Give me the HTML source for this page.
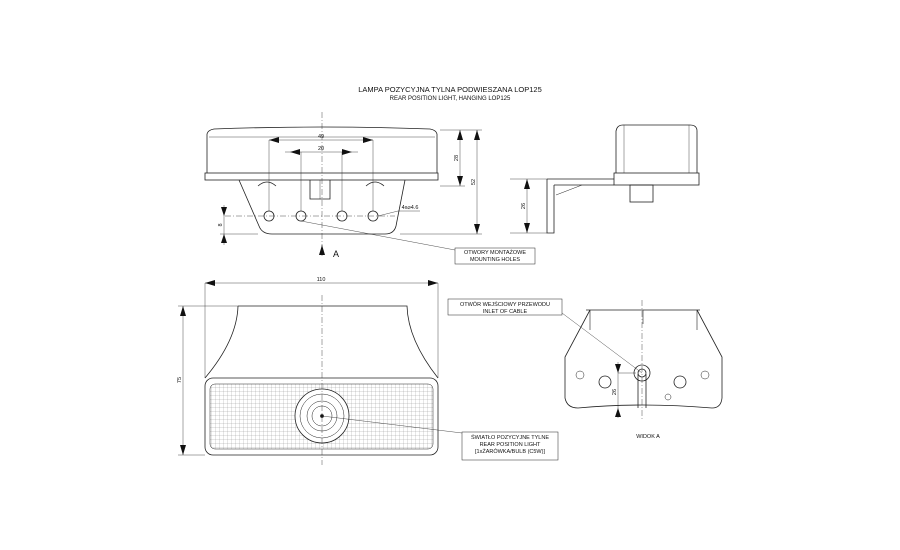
<!DOCTYPE html>
<html><head><style>html,body{margin:0;padding:0;background:#fff;}svg{display:block}text{font-family:"Liberation Sans",sans-serif;fill:#111}</style></head>
<body>
<svg width="900" height="550" viewBox="0 0 900 550" xmlns="http://www.w3.org/2000/svg">
<defs>
<marker id="a" markerWidth="10" markerHeight="6" refX="10" refY="3" orient="auto-start-reverse" markerUnits="userSpaceOnUse"><path d="M0,0 L10,3 L0,6Z" fill="#111"/></marker>
<pattern id="g" width="4" height="4" patternUnits="userSpaceOnUse"><path d="M4,0V4M0,4H4" stroke="#999" stroke-width="0.5" fill="none"/></pattern>
</defs>
<text x="450" y="92" font-size="7.5" text-anchor="middle">LAMPA POZYCYJNA TYLNA PODWIESZANA LOP125</text>
<text x="450" y="100" font-size="6" text-anchor="middle">REAR POSITION LIGHT, HANGING LOP125</text>
<g fill="none" stroke="#222" stroke-width="0.8">
<!-- front view top -->
<path d="M207,173 L207,134 Q208,130 214,129 Q322,125 430,129 Q436,130 437,134 L437,173"/>
<line x1="209" y1="137" x2="435" y2="137" stroke-width="0.4"/>
<rect x="205" y="173" width="233" height="7"/>
<path d="M239,180 L259,226 Q262,234 272,234 L385,234 Q394,234 396,226 L405,180"/>
<path d="M310,180 V199 H330 V180"/><line x1="320" y1="180" x2="320" y2="199" stroke-width="0.4"/>
<path d="M258,186 Q267,178 276,186 M366,186 Q375,178 384,186"/>
<circle cx="269" cy="216" r="5"/><circle cx="301" cy="216" r="5"/><circle cx="342" cy="216" r="5"/><circle cx="373" cy="216" r="5"/>
<g stroke-width="0.4" stroke-dasharray="6,2,1,2"><line x1="322" y1="112" x2="322" y2="248"/><line x1="225" y1="216" x2="395" y2="216"/></g>
<g stroke-width="0.4">
<line x1="269" y1="140" x2="269" y2="211"/><line x1="373" y1="140" x2="373" y2="211"/>
<line x1="301" y1="152" x2="301" y2="211"/><line x1="342" y1="152" x2="342" y2="211"/>
<line x1="269" y1="140" x2="373" y2="140" marker-start="url(#a)" marker-end="url(#a)"/>
<line x1="285" y1="152" x2="358" y2="152"/>
<line x1="440" y1="130" x2="482" y2="130"/><line x1="440" y1="186" x2="465" y2="186"/><line x1="400" y1="234" x2="482" y2="234"/>
<line x1="460" y1="130" x2="460" y2="186" marker-start="url(#a)" marker-end="url(#a)"/>
<line x1="477" y1="130" x2="477" y2="234" marker-start="url(#a)" marker-end="url(#a)"/>
<line x1="224" y1="205" x2="224" y2="245"/><line x1="220" y1="234" x2="258" y2="234"/>
<line x1="378" y1="216" x2="398" y2="211"/><line x1="398" y1="211" x2="420" y2="211"/>
<line x1="301" y1="221" x2="455" y2="250"/>
<line x1="322" y1="256" x2="322" y2="245" marker-end="url(#a)"/>
</g>
<path d="M290,152 l10,-3 v6z M352,152 l-10,-3 v6z M224,216 l-3,-9 h6z M224,234 l-3,9 h6z" fill="#111" stroke="none"/>
<rect x="455" y="248" width="80" height="16" stroke-width="0.5"/>
<!-- side view -->
<path d="M616,173 V131 Q617,125 623,125 H690 Q697,125 697,131 V173"/>
<line x1="624" y1="125" x2="624" y2="173" stroke-width="0.4"/><line x1="689" y1="125" x2="689" y2="173" stroke-width="0.4"/>
<rect x="614" y="173" width="85" height="12"/>
<path d="M547,179 H614 M554,185 H614 M547,179 V233 H554 V185"/>
<path d="M556,195 L582,185" stroke-width="0.5"/>
<rect x="630" y="185" width="23" height="17"/>
<g stroke-width="0.4"><line x1="510" y1="179" x2="547" y2="179"/><line x1="510" y1="233" x2="547" y2="233"/>
<line x1="527" y1="179" x2="527" y2="233" marker-start="url(#a)" marker-end="url(#a)"/></g>
<!-- bottom view -->
<path d="M238,306 H407 Q408,340 438,378 M238,306 Q237,340 205,378"/>
<rect x="205" y="378" width="233" height="77" rx="8"/>
<rect x="210" y="384" width="223" height="65" rx="5" fill="url(#g)" stroke-width="0.5"/>
<circle cx="322" cy="416" r="27" fill="#fff"/><circle cx="322" cy="416" r="22" stroke-width="0.5"/><circle cx="322" cy="416" r="15" stroke-width="0.5"/><circle cx="322" cy="416" r="10" stroke-width="0.5"/>
<circle cx="322" cy="416" r="1.5" fill="#111"/>
<g stroke-width="0.4">
<line x1="205" y1="283" x2="205" y2="378"/><line x1="438" y1="283" x2="438" y2="378"/>
<line x1="205" y1="283" x2="438" y2="283" marker-start="url(#a)" marker-end="url(#a)"/>
<line x1="178" y1="306" x2="238" y2="306"/><line x1="178" y1="455" x2="205" y2="455"/>
<line x1="183" y1="306" x2="183" y2="455" marker-start="url(#a)" marker-end="url(#a)"/>
<line x1="322" y1="295" x2="322" y2="465" stroke-dasharray="6,2,1,2"/>
<line x1="322" y1="416" x2="462" y2="433"/>
<line x1="562" y1="313" x2="642" y2="373"/>
</g>
<rect x="462" y="432" width="96" height="28" stroke-width="0.5"/>
<rect x="448" y="299" width="114" height="16" stroke-width="0.5"/>
<!-- view A -->
<path d="M586,310 H700 M590,310 L565,357 V398 Q567,408 578,408 Q642,402 712,408 Q721,408 722,398 V357 L697,310"/>
<path d="M590,310 v20 M697,310 v20 M643,310 v14" stroke-width="0.6"/>
<circle cx="642" cy="373" r="8"/><circle cx="642" cy="373" r="4"/>
<path d="M638,374 V408 M646,374 V408"/>
<circle cx="605" cy="382" r="6"/><circle cx="680" cy="382" r="6"/><circle cx="580" cy="375" r="4" stroke-width="0.5"/><circle cx="705" cy="375" r="4" stroke-width="0.5"/><circle cx="668" cy="397" r="3" stroke-width="0.5"/>
<g stroke-width="0.4"><line x1="642" y1="300" x2="642" y2="420" stroke-dasharray="6,2,1,2"/>
<line x1="618" y1="373" x2="636" y2="373"/>
<line x1="618" y1="362" x2="618" y2="418"/></g>
<path d="M618,373 l-3,-9 h6z M618,408 l-3,9 h6z" fill="#111" stroke="none"/>
</g>
<g font-size="5.5" text-anchor="middle">
<text x="321" y="138">49</text><text x="321" y="150">20</text>
<text x="458" y="158" transform="rotate(-90 458 158)">28</text>
<text x="475" y="182" transform="rotate(-90 475 182)">52</text>
<text x="222" y="225" transform="rotate(-90 222 225)">8</text>
<text x="525" y="206" transform="rotate(-90 525 206)">26</text>
<text x="410" y="209">4x⌀4.6</text>
<text x="321" y="281">110</text>
<text x="181" y="380" transform="rotate(-90 181 380)">75</text>
<text x="616" y="392" transform="rotate(-90 616 392)">26</text>
<text x="495" y="254">OTWORY MONTAŻOWE</text><text x="495" y="261">MOUNTING HOLES</text>
<text x="505" y="306">OTWÓR WEJŚCIOWY PRZEWODU</text><text x="505" y="313">INLET OF CABLE</text>
<text x="510" y="439">ŚWIATŁO POZYCYJNE TYLNE</text><text x="510" y="446">REAR POSITION LIGHT</text><text x="510" y="453">[1xŻARÓWKA/BULB (C5W)]</text>
<text x="648" y="438">WIDOK A</text>
</g>
<text x="333" y="257" font-size="9">A</text>
</svg>
</body></html>
